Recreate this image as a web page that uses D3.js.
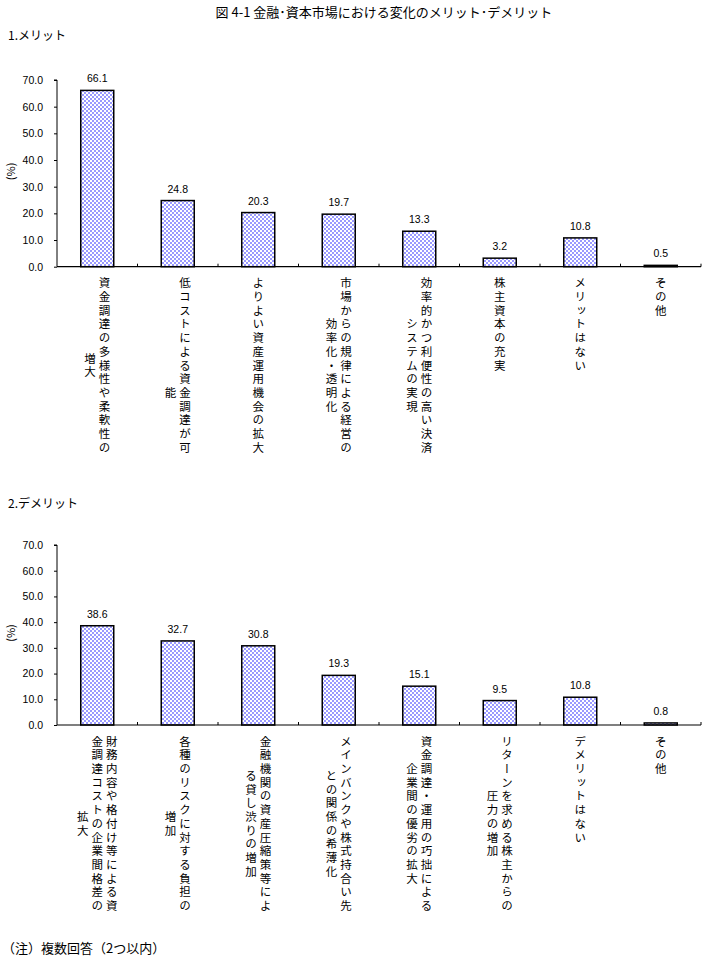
<!DOCTYPE html>
<html><head><meta charset="utf-8">
<script src="https://cdn.jsdelivr.net/npm/d3@7"></script>
<style>
html,body{margin:0;padding:0;background:#fff;}
svg{display:block;}
.jp{font-family:"Noto Sans CJK JP","Noto Sans",sans-serif;}
.num{font-family:"Liberation Sans",Arial,sans-serif;}
</style></head>
<body>
<svg id="chart" width="721" height="959"></svg>
<script>
// ---- data ----
const meritLabels = [
  ["資金調達の多様性や柔軟性の","増大"],
  ["低コストによる資金調達が可","　　　　能"],
  ["よりよい資産運用機会の拡大"],
  ["市場からの規律による経営の","効率化・透明化"],
  ["効率的かつ利便性の高い決済","システムの実現"],
  ["株主資本の充実"],
  ["メリットはない"],
  ["その他"]
];
const meritValues = [66.1, 24.8, 20.3, 19.7, 13.3, 3.2, 10.8, 0.5];

const demeritLabels = [
  ["財務内容や格付け等による資","金調達コストの企業間格差の","拡大"],
  ["各種のリスクに対する負担の","増加"],
  ["金融機関の資産圧縮策等によ","る貸し渋りの増加"],
  ["メインバンクや株式持合い先","との関係の希薄化"],
  ["資金調達・運用の巧拙による","企業間の優劣の拡大"],
  ["リターンを求める株主からの","圧力の増加"],
  ["デメリットはない"],
  ["その他"]
];
const demeritValues = [38.6, 32.7, 30.8, 19.3, 15.1, 9.5, 10.8, 0.8];

const yTicks = [0, 10, 20, 30, 40, 50, 60, 70];
const titleText = "図 4-1  金融･資本市場における変化のメリット･デメリット";
const section1 = "1.メリット";
const section2 = "2.デメリット";
const yLabel = "(%)";
const footnote = "（注）複数回答（2つ以内）";

// ---- drawing ----
const svg = d3.select("#chart");
svg.append("rect").attr("width",721).attr("height",959).attr("fill","#fff");

const defs = svg.append("defs");
const pat = defs.append("pattern").attr("id","chk").attr("patternUnits","userSpaceOnUse")
  .attr("width",4).attr("height",4);
pat.append("rect").attr("width",4).attr("height",4).attr("fill","#fff");
pat.append("rect").attr("x",0).attr("y",0).attr("width",2).attr("height",2).attr("fill","#9999ff");
pat.append("rect").attr("x",2).attr("y",2).attr("width",2).attr("height",2).attr("fill","#9999ff");

svg.append("text").attr("class","jp").attr("x",384).attr("y",17)
  .attr("text-anchor","middle").attr("font-size",13).attr("fill","#000").text(titleText);

function drawPanel(opts){
  const {labels, values, y0, y70, secY, secText} = opts;
  const left = 57, right = 701;
  const idx = d3.range(values.length);
  const x = d3.scaleBand().domain(idx).range([left, right]).paddingInner(0.59).paddingOuter(0.295);
  const y = d3.scaleLinear().domain([0,70]).range([y0, y70]);

  svg.append("text").attr("class","jp").attr("x",8).attr("y",secY)
    .attr("font-size",12).attr("fill","#000").text(secText);

  // y axis
  const ya = svg.append("g").attr("transform",`translate(${left},0)`)
    .call(d3.axisLeft(y).tickValues(yTicks).tickFormat(d3.format(".1f")).tickSize(3).tickPadding(11));
  ya.select(".domain").attr("stroke","#000").attr("stroke-width",1);
  ya.selectAll(".tick line").attr("stroke","#000");
  ya.selectAll(".tick text").attr("class","num").attr("font-size",10.5).attr("fill","#000");
  ya.select(".domain").attr("d",`M-3,${y(70)}H0V${y(0)}`);

  svg.append("text").attr("class","jp")
    .attr("transform",`translate(15,${(y(0)+y(70))/2 - 2}) rotate(-90)`)
    .attr("text-anchor","middle").attr("font-size",11).attr("fill","#000").text(yLabel);

  // bars
  svg.append("g").selectAll("rect").data(values).join("rect")
    .attr("x",(d,i)=>x(i)).attr("width",x.bandwidth())
    .attr("y",d=>y(d)).attr("height",d=>y(0)-y(d))
    .attr("fill","url(#chk)").attr("stroke","#000").attr("stroke-width",1.5);

  // value labels
  svg.append("g").selectAll("text").data(values).join("text")
    .attr("class","num").attr("x",(d,i)=>x(i)+x.bandwidth()/2).attr("y",d=>y(d)-8)
    .attr("text-anchor","middle").attr("font-size",10.5).attr("fill","#000")
    .text(d=>d3.format(".1f")(d));

  // baseline and category ticks
  svg.append("line").attr("x1",left).attr("x2",right).attr("y1",y(0)).attr("y2",y(0))
    .attr("stroke","#000").attr("stroke-width",1.2);
  const step = x.step();
  svg.append("g").selectAll("line").data(d3.range(1, values.length+1)).join("line")
    .attr("x1",d=>left+d*step).attr("x2",d=>left+d*step)
    .attr("y1",y(0)).attr("y2",y(0)-3).attr("stroke","#000");

  // vertical category labels
  const pitch = 13.7, colGap = 14.5, top = y(0) + 10.5;
  labels.forEach((cols,i)=>{
    const cx = x(i) + x.bandwidth()/2;
    const maxLen = d3.max(cols, c=>c.length);
    const cy = top + maxLen*pitch/2;
    cols.forEach((c,j)=>{
      svg.append("text").attr("class","jp")
        .attr("x", cx + ((cols.length-1)/2 - j)*colGap)
        .attr("y", cy)
        .attr("text-anchor","middle")
        .style("writing-mode","vertical-rl")
        .style("text-orientation","upright")
        .attr("font-size",11.5)
        .attr("letter-spacing", pitch-11.5)
        .attr("fill","#000")
        .text(c);
    });
  });
}

drawPanel({labels: meritLabels, values: meritValues, y0: 266.7, y70: 80, secY: 40, secText: section1});
drawPanel({labels: demeritLabels, values: demeritValues, y0: 725, y70: 545, secY: 508, secText: section2});

svg.append("text").attr("class","jp").attr("x",2).attr("y",953)
  .attr("font-size",13).attr("fill","#000").text(footnote);
</script>
</body></html>
